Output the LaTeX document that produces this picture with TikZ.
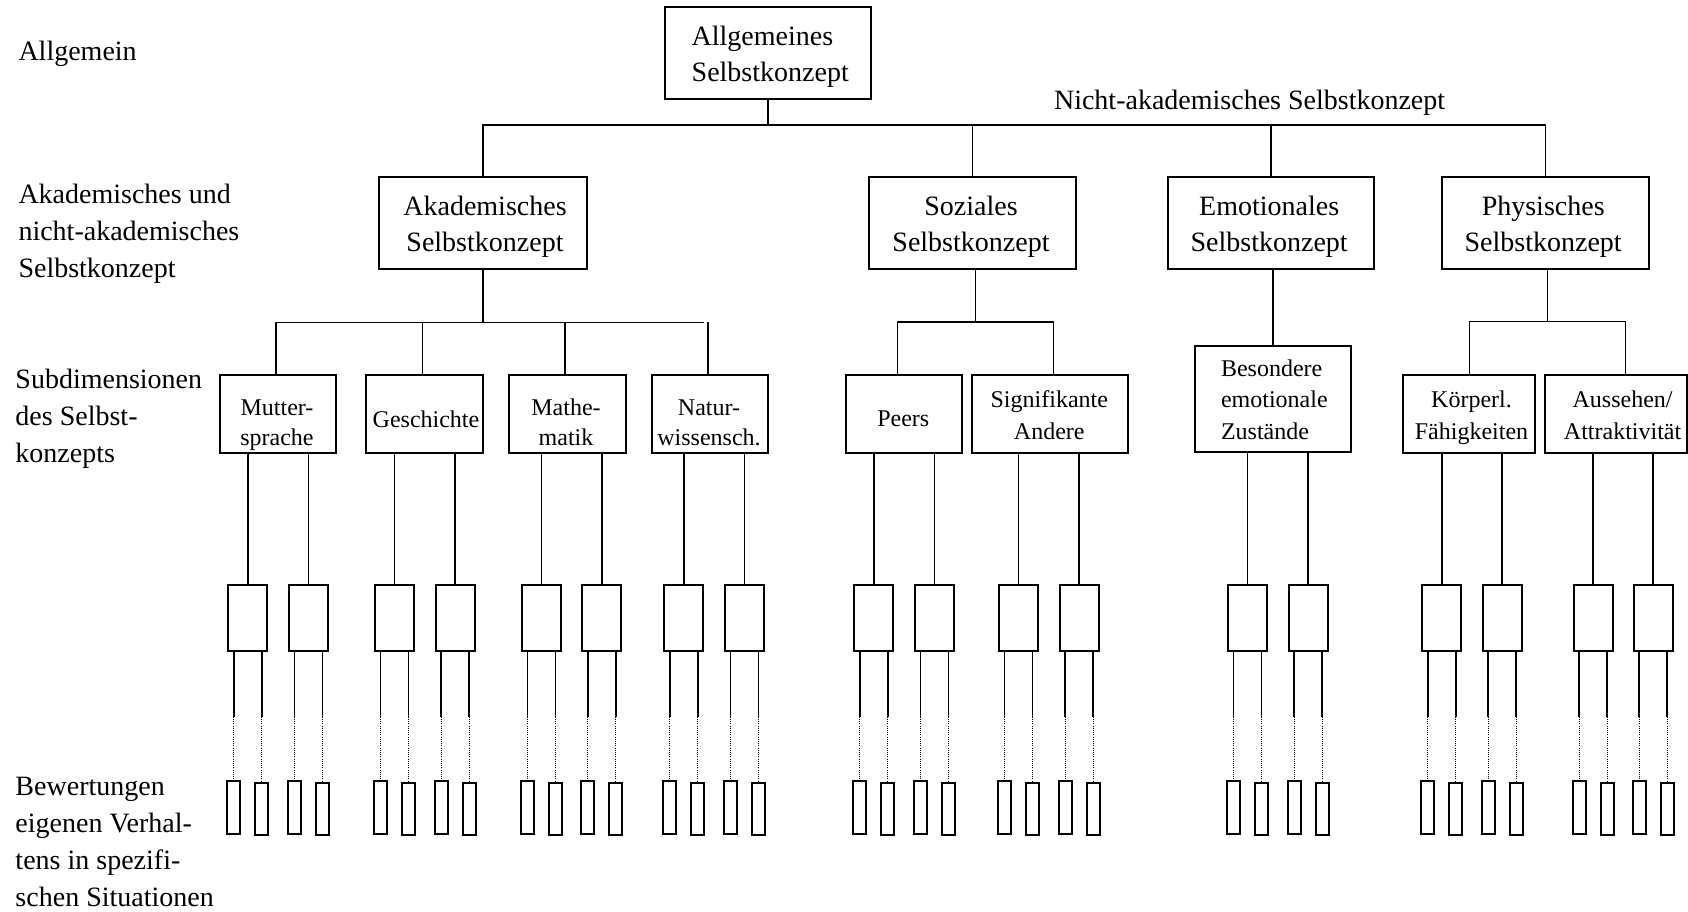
\documentclass[tikz,border=0pt]{standalone}
\usepackage{fontspec}
\setmainfont{Liberation Serif}
% stacked lines: first line's baseline is the node baseline
\newcommand{\cLines}[2]{\vtop{\baselineskip=#1\relax\halign{\hfil##\hfil\cr#2\crcr}}}
\newcommand{\lLines}[2]{\vtop{\baselineskip=#1\relax\halign{##\hfil\cr#2\crcr}}}
\begin{document}
\begin{tikzpicture}[x=0.5pt, y=-0.5pt,
  frame/.style 2 args={draw, line width=1pt, inner sep=0pt, outer sep=0pt,
    minimum width=#1*0.5pt, minimum height=#2*0.5pt},
  conn/.style={line width=0.75pt},
  dotline/.style={line width=0.5pt, dash pattern=on 0.5pt off 0.6pt},
  bigtxt/.style={font=\fontsize{14pt}{18.5pt}\selectfont, inner sep=0pt, outer sep=0pt},
  smalltxt/.style={font=\fontsize{12pt}{15.5pt}\selectfont, inner sep=0pt, outer sep=0pt}]
\useasboundingbox (0,0) rectangle (1688,911);

% ---- level labels on the left
\node[bigtxt, anchor=base west] (lab1) at (18.5,60) {Allgemein};
\node[bigtxt, anchor=base west] (lab2) at (18.5,203)
  {\lLines{18.5pt}{Akademisches und\cr nicht-akademisches\cr Selbstkonzept}};
\node[bigtxt, anchor=base west] (lab3) at (15.5,388)
  {\lLines{18.5pt}{Subdimensionen\cr des Selbst-\cr konzepts}};
\node[bigtxt, anchor=base west] (lab4) at (15.5,795)
  {\lLines{18.5pt}{Bewertungen\cr eigenen Verhal-\cr tens in spezifi-\cr schen Situationen}};

% ---- top level
\node[frame={206.4}{92}] (allg) at (768,52.7) {};
\node[bigtxt, anchor=base west] (allg-t) at (691.7,45)
  {\lLines{18.2pt}{Allgemeines\cr Selbstkonzept}};

% ---- second level
\node[frame={207.7}{92.6}] (akad) at (482.8,223) {};
\node[frame={207.3}{92.6}] (soz)  at (972.7,223) {};
\node[frame={206.7}{92.6}] (emot) at (1270.9,223) {};
\node[frame={207.8}{92.6}] (phys) at (1545.5,223) {};
\node[bigtxt, anchor=base] (akad-t) at (485,215) {\cLines{18.3pt}{Akademisches\cr Selbstkonzept}};
\node[bigtxt, anchor=base] (soz-t)  at (971,215) {\cLines{18.3pt}{Soziales\cr Selbstkonzept}};
\node[bigtxt, anchor=base] (emot-t) at (1269.2,215) {\cLines{18.3pt}{Emotionales\cr Selbstkonzept}};
\node[bigtxt, anchor=base] (phys-t) at (1543.2,215) {\cLines{18.3pt}{Physisches\cr Selbstkonzept}};
\node[bigtxt, anchor=base] (nakad) at (1249.6,109) {Nicht-akademisches Selbstkonzept};

\coordinate (busA) at (768,125);
\draw[conn] (allg.south) -- (busA);
\draw[conn] (akad.north) |- (phys.north |- busA) -- (phys.north);
\draw[conn] (soz.north) -- (soz.north |- busA);
\draw[conn] (emot.north) -- (emot.north |- busA);

% ---- third level
\node[frame={116.2}{78.8}] (mutter)   at (278.1,413.9) {};
\node[frame={117.5}{78.8}] (gesch)    at (424.5,413.9) {};
\node[frame={116.8}{78.8}] (mathe)    at (567.2,413.9) {};
\node[frame={116.7}{78.8}] (natur)    at (710,413.9) {};
\node[frame={116.6}{78.8}] (peers)    at (904,413.9) {};
\node[frame={156.6}{78.8}] (signif)   at (1050,413.9) {};
\node[frame={156}{105.7}]  (besond)   at (1273,399.2) {};
\node[frame={132.3}{78.8}] (koerper)  at (1468.9,413.9) {};
\node[frame={142}{78.8}]   (aussehen) at (1615.6,413.9) {};

\node[smalltxt, anchor=base] (mutter-t) at (277,415) {\cLines{15pt}{Mutter-\cr sprache}};
\node[smalltxt, anchor=base] (gesch-t)  at (426,427) {Geschichte};
\node[smalltxt, anchor=base] (mathe-t)  at (566,415) {\cLines{15pt}{Mathe-\cr matik}};
\node[smalltxt, anchor=base] (natur-t)  at (709,415) {\cLines{15pt}{Natur-\cr wissensch.}};
\node[smalltxt, anchor=base] (peers-t)  at (903.3,426.7) {Peers};
\node[smalltxt, anchor=base] (signif-t) at (1049.3,407.3) {\cLines{16.3pt}{Signifikante\cr Andere}};
\node[smalltxt, anchor=base west] (besond-t) at (1221,376)
  {\lLines{15.75pt}{Besondere\cr emotionale\cr Zustände}};
\node[smalltxt, anchor=base] (koerper-t)  at (1471.5,407.7) {\cLines{15.65pt}{Körperl.\cr Fähigkeiten}};
\node[smalltxt, anchor=base] (aussehen-t) at (1622.6,407.7) {\cLines{15.65pt}{Aussehen/\cr Attraktivität}};

% academic branch
\coordinate (busB) at (483,322.3);
\draw[conn] (akad.south) -- (akad.south |- busB);
\draw[conn] ([xshift=-1pt]mutter.north) |- ([xshift=-3pt]natur.north |- busB);
\draw[conn] ([xshift=-1pt]gesch.north) -- ([xshift=-1pt]gesch.north |- busB);
\draw[conn] ([xshift=-1pt]mathe.north) -- ([xshift=-1pt]mathe.north |- busB);
\draw[conn] ([xshift=-1pt]natur.north) -- ([xshift=-1pt]natur.north |- busB);

% social branch
\coordinate (sozJ) at (975.3,322);
\coordinate (peersJ) at (897.7,322);
\coordinate (signifJ) at (1053.3,322);
\draw[conn] (soz.south -| sozJ) -- (sozJ);
\draw[conn] (peers.north -| peersJ) |- (signifJ) -- (signif.north -| signifJ);

% emotional branch
\draw[conn] (besond.north) -- (besond.north |- emot.south);

% physical branch
\coordinate (physJ) at (1547.3,321.7);
\coordinate (koerperJ) at (1469.7,321.7);
\coordinate (aussehenJ) at (1625.3,321.7);
\draw[conn] (phys.south -| physJ) -- (physJ);
\draw[conn] (koerper.north -| koerperJ) |- (aussehenJ) -- (aussehen.north -| aussehenJ);

% ---- fourth and fifth level
\foreach \n/\x/\p in {
  m1/247.8/mutter, m2/308.3/mutter,
  g1/394.7/gesch, g2/455.2/gesch,
  a1/541.4/mathe, a2/601.9/mathe,
  n1/683.9/natur, n2/744.3/natur,
  p1/873.9/peers, p2/934.4/peers,
  s1/1018.7/signif, s2/1079/signif,
  b1/1247.5/besond, b2/1308/besond,
  k1/1441.8/koerper, k2/1502.1/koerper,
  z1/1593.2/aussehen, z2/1653.2/aussehen}{
  \node[frame={39}{65.5}] (\n) at (\x,617.75) {};
  \draw[conn] (\n.north) -- (\n.north |- \p.south);
  \node[frame={13}{52.7}] (\n-a) at (\x-14,807.35) {};
  \node[frame={13}{52.3}] (\n-b) at (\x+14,808.85) {};
  \coordinate (\n-ka) at (\x-14,716.7);
  \coordinate (\n-kb) at (\x+14,716.7);
  \draw[conn] (\n.south -| \n-ka) -- (\n-ka);
  \draw[dotline] (\n-ka) -- (\n-a.north);
  \draw[conn] (\n.south -| \n-kb) -- (\n-kb);
  \draw[dotline] (\n-kb) -- (\n-b.north);
}
\end{tikzpicture}
\end{document}
